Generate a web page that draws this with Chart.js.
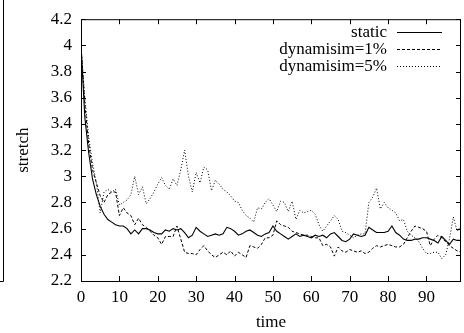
<!DOCTYPE html>
<html>
<head>
<meta charset="utf-8">
<script src="https://cdn.jsdelivr.net/npm/chart.js@4/dist/chart.umd.min.js"></script>
<style>
  body { margin: 0; background: #fff; }
  #wrap { width: 464px; height: 333px; position: relative; }
</style>
</head>
<body>
<div id="wrap"><canvas id="myChart"></canvas></div>
<script>
// values, one per time step 0..99
const times = Array.from({length: 100}, (_, i) => i);

const staticStretch = [
  4.0, 3.45, 3.18, 2.98, 2.86, 2.77, 2.71, 2.67, 2.65, 2.63, 2.62,
  2.62, 2.6, 2.56, 2.59, 2.56, 2.6, 2.6, 2.59, 2.57, 2.56,
  2.56, 2.59, 2.58, 2.6, 2.59, 2.6, 2.57, 2.53, 2.55, 2.61,
  2.58, 2.56, 2.54, 2.55, 2.56, 2.55, 2.56, 2.61, 2.6, 2.58,
  2.55, 2.56, 2.58, 2.59, 2.57, 2.55, 2.54, 2.56, 2.57, 2.62,
  2.58, 2.56, 2.54, 2.52, 2.54, 2.56, 2.54, 2.55, 2.54, 2.53,
  2.55, 2.54, 2.55, 2.53, 2.56, 2.57, 2.54, 2.51, 2.5, 2.52,
  2.56, 2.55, 2.54, 2.55, 2.61, 2.59, 2.57, 2.57, 2.57, 2.58,
  2.62, 2.57, 2.55, 2.52, 2.51, 2.51, 2.52, 2.52, 2.53, 2.53,
  2.52, 2.51, 2.49, 2.54, 2.51, 2.48, 2.52, 2.51, 2.51
];

const dyn1Stretch = [
  4.0, 3.55, 3.25, 3.05, 2.95, 2.85, 2.8, 2.86, 2.88, 2.88, 2.7,
  2.76, 2.72, 2.7, 2.63, 2.68, 2.63, 2.61, 2.58, 2.55, 2.53,
  2.48, 2.54, 2.54, 2.54, 2.62, 2.52, 2.42, 2.41, 2.41, 2.4,
  2.44, 2.47, 2.43, 2.4, 2.38, 2.4, 2.42, 2.4, 2.43, 2.39,
  2.42, 2.4, 2.38, 2.47, 2.46, 2.45, 2.48, 2.53, 2.53, 2.55,
  2.66, 2.63, 2.62, 2.61, 2.58, 2.57, 2.56, 2.55, 2.55, 2.54,
  2.53, 2.53, 2.47, 2.48, 2.46, 2.39, 2.46, 2.43, 2.42, 2.44,
  2.43, 2.42, 2.43, 2.41, 2.42, 2.45, 2.47, 2.46, 2.47, 2.48,
  2.47, 2.46, 2.46, 2.48, 2.53, 2.58, 2.62, 2.61, 2.6, 2.58,
  2.47, 2.52, 2.55, 2.53, 2.5, 2.47, 2.45, 2.43, 2.42
];

const dyn5Stretch = [
  4.0, 3.6, 3.3, 3.1, 2.95, 2.72, 2.88, 2.9, 2.88, 2.9, 2.78,
  2.8, 2.82, 2.86, 3.0, 2.86, 2.92, 2.79, 2.83, 2.88, 2.94,
  2.99, 2.93, 2.9, 2.98, 2.93, 3.05, 3.2, 3.0, 2.88, 3.03,
  2.95, 3.07, 3.05, 2.89, 2.97, 2.94, 2.9, 2.88, 2.85, 2.81,
  2.8, 2.74, 2.7, 2.68, 2.65, 2.76, 2.75, 2.8, 2.83, 2.78,
  2.73, 2.81, 2.8, 2.73, 2.81, 2.67, 2.74, 2.72, 2.73, 2.74,
  2.71, 2.63, 2.58, 2.62, 2.66, 2.7, 2.67, 2.58, 2.57, 2.55,
  2.53, 2.55, 2.56, 2.56, 2.8, 2.84, 2.91, 2.75, 2.8, 2.76,
  2.74, 2.72, 2.66, 2.67, 2.58, 2.55, 2.53, 2.5, 2.45, 2.41,
  2.41, 2.42, 2.42, 2.37, 2.4, 2.52, 2.69, 2.58, 2.62
];

const seriesNames = ['static', 'dynamisim=1%', 'dynamisim=5%'];
const xTicks = [0, 10, 20, 30, 40, 50, 60, 70, 80, 90];
const yTicks = [2.2, 2.4, 2.6, 2.8, 3, 3.2, 3.4, 3.6, 3.8, 4, 4.2];

const FONT = "'Liberation Serif', 'Times New Roman', serif";

function toPoints(values) {
  return values.map((v, i) => ({x: times[i], y: v}));
}

// gnuplot style: box round the plot, ticks pointing inwards on all sides, key top right
const gnuplotFrame = {
  id: 'gnuplotFrame',
  afterDraw(chart) {
    const ctx = chart.ctx;
    const a = chart.chartArea;
    const xs = chart.scales.x, ys = chart.scales.y;
    const tl = 5;
    ctx.save();
    ctx.strokeStyle = '#000';
    ctx.lineWidth = 1;
    ctx.setLineDash([]);
    ctx.beginPath();
    // piece of the neighbouring figure at the far left
    ctx.moveTo(3.5, 0); ctx.lineTo(3.5, a.bottom + 0.5); ctx.lineTo(0, a.bottom + 0.5);
    ctx.stroke();

    ctx.strokeRect(a.left + 0.5, a.top + 0.5, a.right - a.left - 1, a.bottom - a.top);
    ctx.beginPath();
    xs.ticks.forEach(t => {
      const px = Math.round(xs.getPixelForValue(t.value)) + 0.5;
      ctx.moveTo(px, a.bottom); ctx.lineTo(px, a.bottom - tl);
      ctx.moveTo(px, a.top); ctx.lineTo(px, a.top + tl);
    });
    ys.ticks.forEach(t => {
      const py = Math.round(ys.getPixelForValue(t.value)) + 0.5;
      ctx.moveTo(a.left, py); ctx.lineTo(a.left + tl, py);
      ctx.moveTo(a.right, py); ctx.lineTo(a.right - tl, py);
    });
    ctx.stroke();

    // key
    ctx.font = '17px ' + FONT;
    ctx.fillStyle = '#000';
    ctx.textAlign = 'right';
    ctx.textBaseline = 'middle';
    chart.data.datasets.forEach((ds, i) => {
      const y = a.top + 13 + i * 17;
      ctx.fillText(ds.label, a.right - 74, y);
      ctx.beginPath();
      ctx.setLineDash(ds.borderDash || []);
      ctx.lineWidth = ds.borderWidth;
      ctx.moveTo(a.right - 64, Math.round(y) + 0.5);
      ctx.lineTo(a.right - 19, Math.round(y) + 0.5);
      ctx.stroke();
    });
    ctx.restore();
  }
};

Chart.defaults.color = '#000';
Chart.defaults.font.family = FONT;
Chart.defaults.font.size = 17;

const ctx = document.getElementById('myChart').getContext('2d');
const myChart = new Chart(ctx, {
  type: 'line',
  data: {
    datasets: [
      {label: seriesNames[0], data: toPoints(staticStretch), borderColor: '#000', borderWidth: 1.1, borderDash: []},
      {label: seriesNames[1], data: toPoints(dyn1Stretch), borderColor: '#000', borderWidth: 1, borderDash: [3, 2]},
      {label: seriesNames[2], data: toPoints(dyn5Stretch), borderColor: '#000', borderWidth: 1, borderDash: [1, 2]}
    ]
  },
  options: {
    responsive: true,
    maintainAspectRatio: false,
    devicePixelRatio: 1,
    animation: false,
    layout: {padding: {top: 12, right: 3, left: 0, bottom: 0}},
    elements: {point: {radius: 0}, line: {tension: 0}},
    plugins: {legend: {display: false}, tooltip: {enabled: false}},
    scales: {
      x: {
        type: 'linear',
        min: 0,
        max: 99,
        grid: {display: false, drawTicks: false},
        border: {display: false},
        afterBuildTicks: s => { s.ticks = xTicks.map(v => ({value: v})); },
        afterFit: s => { s.height = 52; },
        ticks: {padding: 6, maxRotation: 0, callback: v => String(v)},
        title: {display: true, text: 'time', padding: {top: 0, bottom: 0}}
      },
      y: {
        type: 'linear',
        min: 2.2,
        max: 4.2,
        grid: {display: false, drawTicks: false},
        border: {display: false},
        afterBuildTicks: s => { s.ticks = yTicks.map(v => ({value: v})); },
        afterFit: s => { s.width = 81; },
        ticks: {padding: 9, callback: v => String(v)},
        title: {display: true, text: 'stretch', padding: {top: 13, bottom: 0}}
      }
    }
  },
  plugins: [gnuplotFrame]
});
</script>
</body>
</html>
